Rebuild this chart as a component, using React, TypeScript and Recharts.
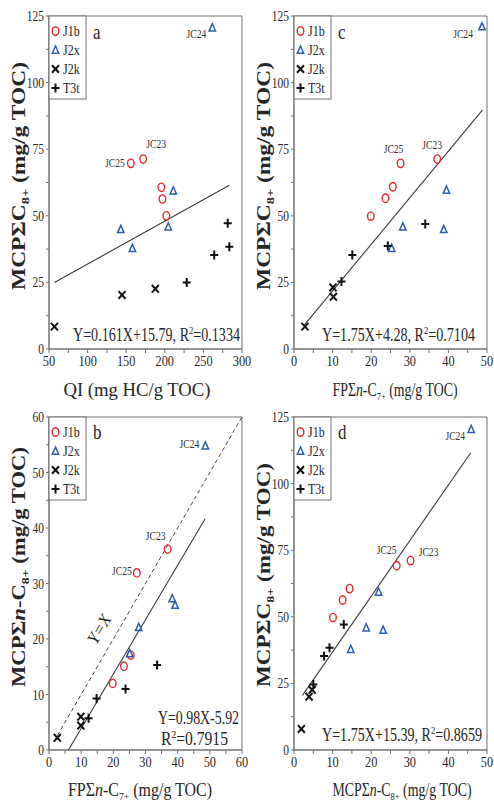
import React from 'react';
import { ScatterChart, Scatter, XAxis, YAxis, ReferenceLine, ReferenceArea } from 'recharts';

const FONT = '"Liberation Serif", "Times New Roman", "DejaVu Serif", serif';
const RED = '#e8262e';
const BLUE = '#2a5cb0';
const INK = '#262626';
const FRAME = '#707070';
const SX = 0.82;

type P = { x: number; y: number; name?: string };

const SERIES_NAMES = ['J1b', 'J2x', 'J2k', 'T3t'];

// ---- Panel a : QI vs MCPΣC8+
const A_J1B: P[] = [
  { x: 156, y: 69.7, name: 'JC25' }, { x: 172, y: 71.3, name: 'JC23' },
  { x: 195.5, y: 60.7 }, { x: 197, y: 56.3 }, { x: 202, y: 50 },
];
const A_J2X: P[] = [
  { x: 261.5, y: 120.6, name: 'JC24' }, { x: 211, y: 59.4 }, { x: 143, y: 44.9 },
  { x: 158, y: 37.8 }, { x: 204.5, y: 45.9 },
];
const A_J2K: P[] = [{ x: 57, y: 8.4 }, { x: 144.6, y: 20.3 }, { x: 187.7, y: 22.6 }];
const A_T3T: P[] = [{ x: 228.4, y: 25 }, { x: 264, y: 35.3 }, { x: 281.5, y: 47.2 }, { x: 283.6, y: 38.4 }];
const A_FIT = [{ x: 57, y: 24.97 }, { x: 283.6, y: 61.45 }];

// ---- Panel c : FPΣn-C7+ vs MCPΣC8+
const C_J1B: P[] = [
  { x: 27.6, y: 69.7, name: 'JC25' }, { x: 37.1, y: 71.3, name: 'JC23' },
  { x: 25.6, y: 60.9 }, { x: 23.7, y: 56.6 }, { x: 19.9, y: 49.9 },
];
const C_J2X: P[] = [
  { x: 48.7, y: 121, name: 'JC24' }, { x: 39.5, y: 59.7 }, { x: 28.2, y: 45.9 },
  { x: 38.8, y: 44.9 }, { x: 25.3, y: 37.8 },
];
const C_J2K: P[] = [{ x: 2.85, y: 8.4 }, { x: 10.1, y: 23.1 }, { x: 10.2, y: 19.6 }];
const C_T3T: P[] = [{ x: 12.3, y: 25.3 }, { x: 15.1, y: 35.3 }, { x: 24.3, y: 38.7 }, { x: 34, y: 46.9 }];
const C_FIT = [{ x: 2.5, y: 8.66 }, { x: 48.8, y: 89.68 }];

// ---- Panel b : FPΣn-C7+ vs MCPΣn-C8+
const B_J1B: P[] = [
  { x: 36.9, y: 36.2, name: 'JC23' }, { x: 27.3, y: 31.9, name: 'JC25' },
  { x: 25.4, y: 17.1 }, { x: 23.3, y: 15.1 }, { x: 19.8, y: 12 },
];
const B_J2X: P[] = [
  { x: 48.6, y: 54.8, name: 'JC24' }, { x: 38.3, y: 27.3 }, { x: 39.2, y: 26.1 },
  { x: 27.9, y: 22.1 }, { x: 25.1, y: 17.4 },
];
const B_J2K: P[] = [{ x: 2.6, y: 2.2 }, { x: 9.9, y: 6.0 }, { x: 9.9, y: 4.4 }];
const B_T3T: P[] = [{ x: 12.3, y: 5.7 }, { x: 14.8, y: 9.3 }, { x: 23.8, y: 11 }, { x: 33.6, y: 15.3 }];
const B_FIT = [{ x: 6.04, y: 0 }, { x: 48.5, y: 41.61 }];
const B_ONE_TO_ONE = [{ x: 1.5, y: 1.5 }, { x: 60, y: 60 }];

// ---- Panel d : MCPΣn-C8+ vs MCPΣC8+
const D_J1B: P[] = [
  { x: 26.6, y: 69.2, name: 'JC25' }, { x: 30.2, y: 71.1, name: 'JC23' },
  { x: 14.4, y: 60.6 }, { x: 12.6, y: 56.3 }, { x: 10.1, y: 49.7 },
];
const D_J2X: P[] = [
  { x: 45.9, y: 120.4, name: 'JC24' }, { x: 21.9, y: 59.3 }, { x: 18.7, y: 45.9 },
  { x: 23.1, y: 45 }, { x: 14.7, y: 37.8 },
];
const D_J2K: P[] = [{ x: 1.9, y: 7.9 }, { x: 3.9, y: 20 }, { x: 4.7, y: 22.6 }];
const D_T3T: P[] = [{ x: 5.0, y: 24.6 }, { x: 7.8, y: 35.3 }, { x: 9.2, y: 38.4 }, { x: 12.9, y: 47.1 }];
const D_FIT = [{ x: 2.2, y: 20.5 }, { x: 45.8, y: 111.6 }];

// ---- ticks
const Y_TICKS_125 = [0, 12.5, 25, 37.5, 50, 62.5, 75, 87.5, 100, 112.5, 125];
const Y_TICKS_60 = [0, 5, 10, 15, 20, 25, 30, 35, 40, 45, 50, 55, 60];
const X_TICKS_QI = [50, 75, 100, 125, 150, 175, 200, 225, 250, 275, 300];
const X_TICKS_50 = [0, 5, 10, 15, 20, 25, 30, 35, 40, 45, 50];
const X_TICKS_60 = [0, 5, 10, 15, 20, 25, 30, 35, 40, 45, 50, 55, 60];

// label offsets (presentation only)
const LABEL_POS: Record<string, Record<string, [number, number, string]>> = {
  a: { JC24: [-6, 10, 'end'], JC23: [13, -11, 'middle'], JC25: [-6, 4, 'end'] },
  c: { JC24: [-9, 11, 'end'], JC25: [-7, -10, 'middle'], JC23: [-5, -10, 'middle'] },
  b: { JC24: [-6, 2, 'end'], JC23: [-12, -9, 'middle'], JC25: [-5, 2, 'end'] },
  d: { JC24: [-6, 11, 'end'], JC25: [-10, -12, 'middle'], JC23: [18, -5, 'middle'] },
};

function ST({ x, y, size = 14, anchor = 'start', sx = SX, weight = 400, children, fill = INK }: any) {
  return (
    <text
      transform={`translate(${x} ${y}) scale(${sx} 1)`}
      fontSize={size}
      fontFamily={FONT}
      fontWeight={weight}
      textAnchor={anchor}
      fill={fill}
    >
      {children}
    </text>
  );
}

function Marker({ kind, cx, cy }: { kind: string; cx: number; cy: number }) {
  if (kind === 'J1b') {
    return <ellipse cx={cx} cy={cy} rx={3.3} ry={4.2} fill="none" stroke={RED} strokeWidth={1.4} />;
  }
  if (kind === 'J2x') {
    return (
      <path
        d={`M${cx},${cy - 4} L${cx + 3.2},${cy + 3.2} L${cx - 3.2},${cy + 3.2} Z`}
        fill="none"
        stroke={BLUE}
        strokeWidth={1.5}
      />
    );
  }
  if (kind === 'J2k') {
    return (
      <path
        d={`M${cx - 3.5},${cy - 3.8} L${cx + 3.5},${cy + 3.8} M${cx + 3.5},${cy - 3.8} L${cx - 3.5},${cy + 3.8}`}
        stroke="#111"
        strokeWidth={2}
      />
    );
  }
  return (
    <path
      d={`M${cx - 4},${cy} L${cx + 4},${cy} M${cx},${cy - 4.5} L${cx},${cy + 4.5}`}
      stroke="#111"
      strokeWidth={2}
    />
  );
}

function makeShape(kind: string, panel: string) {
  return (p: any) => {
    const { cx, cy, payload } = p;
    const name = payload && payload.name;
    const pos = name ? LABEL_POS[panel][name] : null;
    return (
      <g>
        <Marker kind={kind} cx={cx} cy={cy} />
        {pos ? (
          <ST x={cx + pos[0]} y={cy + pos[1]} size={12} anchor={pos[2]} sx={0.8} fill="#333">
            {name}
          </ST>
        ) : null}
      </g>
    );
  };
}

function yTick(major: number) {
  return (p: any) => {
    const v = p.payload.value;
    if (Math.abs(v / major - Math.round(v / major)) > 1e-6) return <g />;
    return (
      <ST x={p.x} y={p.y + 5} size={14} anchor="end">
        {v}
      </ST>
    );
  };
}

function xTick(major: number) {
  return (p: any) => {
    const v = p.payload.value;
    if (Math.abs(v / major - Math.round(v / major)) > 1e-6) return <g />;
    return (
      <ST x={p.x} y={p.y + 11} size={15} anchor="middle">
        {v}
      </ST>
    );
  };
}

function Legend({ top }: { top: number }) {
  const ys = [15, 34, 53, 72];
  return (
    <g>
      <rect x={49} y={top} width={37} height={83} fill="#fff" stroke={FRAME} strokeWidth={1} />
      {SERIES_NAMES.map((s, i) => (
        <g key={s}>
          <Marker kind={s} cx={55.5} cy={top + ys[i]} />
          <ST x={63} y={top + ys[i] + 5} size={15} sx={0.8}>
            {s}
          </ST>
        </g>
      ))}
    </g>
  );
}

function Panel(props: any) {
  const {
    id, left, top, width, rightMargin, height, xDomain, yDomain, xTicks, yTicks, xMajor, yMajor,
    data, fit, oneToOne, marginTop, overlay,
  } = props;
  const kinds = SERIES_NAMES;
  return (
    <div style={{ position: 'absolute', left, top, width, height }}>
      <ScatterChart
        width={width}
        height={height}
        margin={{ top: marginTop, right: rightMargin, bottom: 0, left: 0 }}
      >
        <XAxis
          type="number"
          dataKey="x"
          domain={xDomain}
          ticks={xTicks}
          interval={0}
          allowDataOverflow
          height={height - marginTop - 333}
          tickSize={4}
          tickMargin={2}
          stroke={FRAME}
          tickLine={{ stroke: FRAME }}
          tick={xTick(xMajor)}
        />
        <YAxis
          type="number"
          dataKey="y"
          domain={yDomain}
          ticks={yTicks}
          interval={0}
          allowDataOverflow
          width={49}
          tickSize={3}
          tickMargin={2}
          stroke={FRAME}
          tickLine={{ stroke: FRAME }}
          tick={yTick(yMajor)}
        />
        <ReferenceArea
          x1={xDomain[0]}
          x2={xDomain[1]}
          y1={yDomain[0]}
          y2={yDomain[1]}
          fill="none"
          fillOpacity={0}
          stroke={FRAME}
          strokeWidth={1}
          ifOverflow="visible"
        />
        {oneToOne ? (
          <ReferenceLine
            segment={oneToOne}
            stroke="#444"
            strokeWidth={1}
            strokeDasharray="4 3"
            ifOverflow="visible"
          />
        ) : null}
        <ReferenceLine segment={fit} stroke="#3a3a3a" strokeWidth={1.1} ifOverflow="visible" />
        {kinds.map((k, i) => (
          <Scatter
            key={k}
            name={k}
            data={data[i]}
            isAnimationActive={false}
            shape={makeShape(k, id)}
          />
        ))}
      </ScatterChart>
      <svg
        width={width}
        height={height}
        style={{ position: 'absolute', left: 0, top: 0, pointerEvents: 'none', overflow: 'visible' }}
      >
        {overlay}
        <Legend top={marginTop} />
      </svg>
    </div>
  );
}

const Sub = ({ children }: any) => (
  <tspan fontSize={11} dy={4}>
    {children}
  </tspan>
);

function YTitle({ cy, len, withN }: { cy: number; len: number; withN?: boolean }) {
  return (
    <text
      transform={`translate(25 ${cy}) rotate(-90)`}
      textAnchor="middle"
      fontSize={18}
      fontWeight={700}
      fontFamily={FONT}
      fill={INK}
      textLength={len}
      lengthAdjust="spacingAndGlyphs"
    >
      {withN ? (
        <>
          MCPΣ<tspan fontStyle="italic">n</tspan>-C
        </>
      ) : (
        'MCPΣC'
      )}
      <Sub>8+</Sub>
      <tspan dy={-4}> (mg/g TOC)</tspan>
    </text>
  );
}

function XTitle({ cx, len, children }: any) {
  return (
    <text
      x={cx}
      y={396}
      textAnchor="middle"
      fontSize={18}
      fontFamily={FONT}
      fill={INK}
      textLength={len}
      lengthAdjust="spacingAndGlyphs"
    >
      {children}
    </text>
  );
}

function Eq({ x, y, len, a, b }: any) {
  return (
    <text
      x={x}
      y={y}
      fontSize={18}
      fontFamily={FONT}
      fill={INK}
      textLength={len}
      lengthAdjust="spacingAndGlyphs"
    >
      {a}
      <tspan fontSize={11} dy={-7}>2</tspan>
      <tspan dy={7}>{b}</tspan>
    </text>
  );
}

const Letter = ({ ch }: any) => (
  <ST x={93} y={39} size={20} sx={0.85}>
    {ch}
  </ST>
);

export default function App() {
  return (
    <div style={{ position: 'absolute', left: 0, top: 0, width: 494, height: 806, background: '#fff', overflow: 'hidden' }}>
      <Panel
        id="a"
        left={0}
        top={0}
        width={252}
        rightMargin={10}
        height={400}
        marginTop={16}
        xDomain={[50, 300]}
        yDomain={[0, 125]}
        xTicks={X_TICKS_QI}
        yTicks={Y_TICKS_125}
        xMajor={50}
        yMajor={25}
        data={[A_J1B, A_J2X, A_J2K, A_T3T]}
        fit={A_FIT}
        overlay={
          <g>
            <Letter ch="a" />
            <YTitle cy={176} len={228} />
            <XTitle cx={137} len={147}>QI (mg HC/g TOC)</XTitle>
            <Eq x={73} y={341} len={167} a="Y=0.161X+15.79, R" b="=0.1334" />
          </g>
        }
      />
      <Panel
        id="c"
        left={245}
        top={0}
        width={249}
        rightMargin={7}
        height={400}
        marginTop={16}
        xDomain={[0, 50]}
        yDomain={[0, 125]}
        xTicks={X_TICKS_50}
        yTicks={Y_TICKS_125}
        xMajor={10}
        yMajor={25}
        data={[C_J1B, C_J2X, C_J2K, C_T3T]}
        fit={C_FIT}
        overlay={
          <g>
            <Letter ch="c" />
            <YTitle cy={176} len={228} />
            <XTitle cx={150} len={125}>
              FPΣ<tspan fontStyle="italic">n</tspan>-C<Sub>7+</Sub>
              <tspan dy={-4}> (mg/g TOC)</tspan>
            </XTitle>
            <Eq x={77} y={341} len={153} a="Y=1.75X+4.28, R" b="=0.7104" />
          </g>
        }
      />
      <Panel
        id="b"
        left={0}
        top={400}
        width={252}
        rightMargin={10}
        height={406}
        marginTop={17}
        xDomain={[0, 60]}
        yDomain={[0, 60]}
        xTicks={X_TICKS_60}
        yTicks={Y_TICKS_60}
        xMajor={10}
        yMajor={10}
        data={[B_J1B, B_J2X, B_J2K, B_T3T]}
        fit={B_FIT}
        oneToOne={B_ONE_TO_ONE}
        overlay={
          <g>
            <Letter ch="b" />
            <YTitle cy={167} len={240} withN />
            <XTitle cx={140} len={144}>
              FPΣ<tspan fontStyle="italic">n</tspan>-C<Sub>7+</Sub>
              <tspan dy={-4}> (mg/g TOC)</tspan>
            </XTitle>
            <text x={158} y={324} fontSize={18} fontFamily={FONT} fill={INK} textLength={81} lengthAdjust="spacingAndGlyphs">
              Y=0.98X-5.92
            </text>
            <Eq x={161} y={345} len={67} a="R" b="=0.7915" />
            <text
              transform="translate(104 232) rotate(-60)"
              textAnchor="middle"
              fontSize={17}
              fontStyle="italic"
              fontFamily={FONT}
              fill={INK}
            >
              Y=X
            </text>
          </g>
        }
      />
      <Panel
        id="d"
        left={245}
        top={400}
        width={249}
        rightMargin={7}
        height={406}
        marginTop={17}
        xDomain={[0, 50]}
        yDomain={[0, 125]}
        xTicks={X_TICKS_50}
        yTicks={Y_TICKS_125}
        xMajor={10}
        yMajor={25}
        data={[D_J1B, D_J2X, D_J2K, D_T3T]}
        fit={D_FIT}
        overlay={
          <g>
            <Letter ch="d" />
            <YTitle cy={175} len={224} />
            <XTitle cx={157} len={139}>
              MCPΣ<tspan fontStyle="italic">n</tspan>-C<Sub>8+</Sub>
              <tspan dy={-4}> (mg/g TOC)</tspan>
            </XTitle>
            <Eq x={77} y={341} len={160} a="Y=1.75X+15.39, R" b="=0.8659" />
          </g>
        }
      />
    </div>
  );
}
